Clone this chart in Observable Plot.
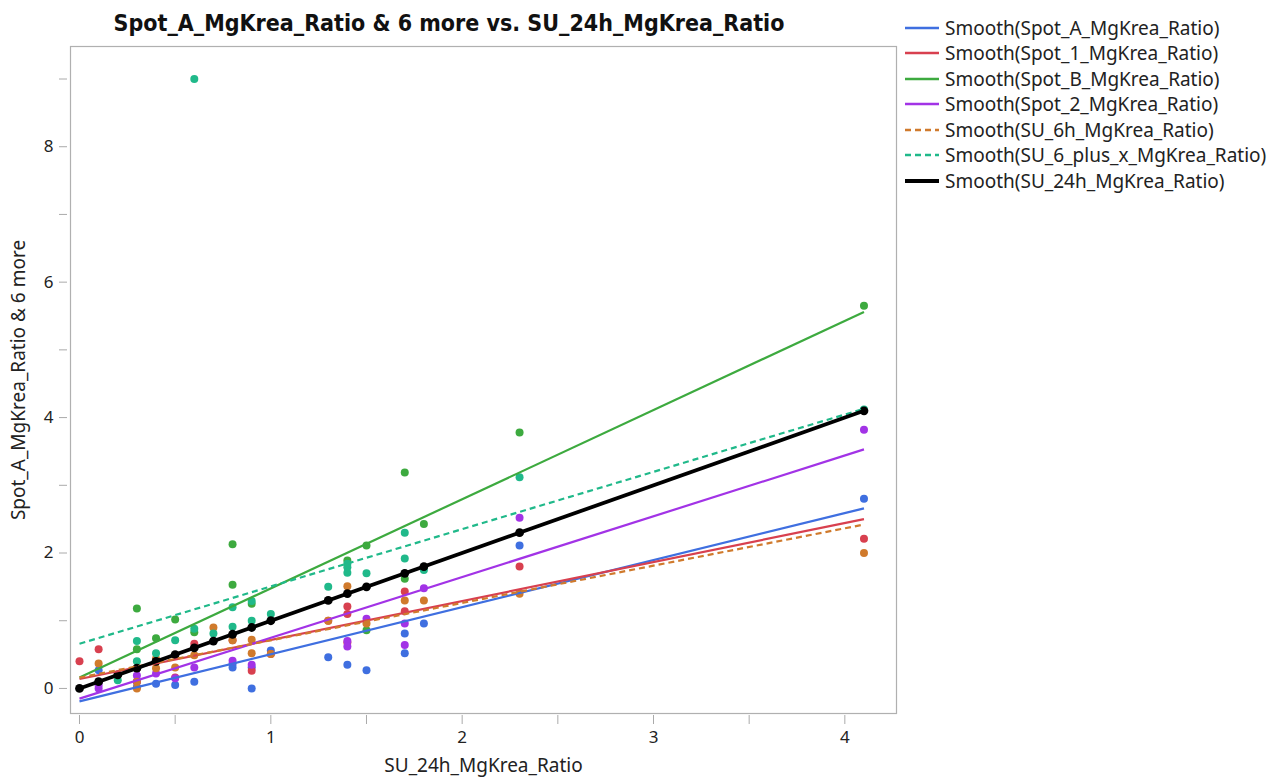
<!DOCTYPE html>
<html>
<head>
<meta charset="utf-8">
<script src="https://cdn.jsdelivr.net/npm/d3@7"></script>
<script src="https://cdn.jsdelivr.net/npm/@observablehq/plot@0.6"></script>
<style>
  html, body { margin: 0; padding: 0; background: #fff; }
  #wrap { position: relative; width: 1269px; height: 778px; font-family: "Noto Sans", "Open Sans", sans-serif; }
  #title { position: absolute; left: 0; width: 898px; top: 10px; text-align: center; font: bold 23px "Liberation Sans Narrow", "DejaVu Sans Condensed", sans-serif; color: #111; }
  #legend { position: absolute; left: 0; top: 0; }
</style>
</head>
<body>
<div id="wrap">
  <div id="chart"></div>
  <div id="title">Spot_A_MgKrea_Ratio &amp; 6 more vs. SU_24h_MgKrea_Ratio</div>
  <svg id="legend" width="1269" height="200"></svg>
</div>
<script>
// ---- data ----
const seriesNames = ["Spot_A_MgKrea_Ratio", "Spot_1_MgKrea_Ratio", "Spot_B_MgKrea_Ratio", "Spot_2_MgKrea_Ratio", "SU_6h_MgKrea_Ratio", "SU_6_plus_x_MgKrea_Ratio", "SU_24h_MgKrea_Ratio"];
const seriesColors = ["#3F6FE0", "#D8404F", "#3DAA3F", "#A233E6", "#D07A2C", "#20B98A", "#000000"];
const seriesDash = [null, null, null, null, "6,4", "6,4", null];
const seriesWidth = [2.2, 2.2, 2.2, 2.2, 2.2, 2.2, 3.8];

const spotA_x = [0.1, 0.3, 0.4, 0.5, 0.6, 0.8, 0.8, 0.9, 0.9, 1.0, 1.3, 1.4, 1.5, 1.7, 1.7, 1.8, 2.3, 4.1];
const spotA_y = [0.27, 0.02, 0.07, 0.05, 0.1, 0.31, 0.36, 0.31, 0.0, 0.56, 0.46, 0.35, 0.27, 0.81, 0.52, 0.96, 2.11, 2.8];

const spot1_x = [0, 0.1, 0.3, 0.5, 0.6, 0.8, 0.9, 1.0, 1.3, 1.4, 1.4, 1.4, 1.7, 1.7, 2.3, 4.1];
const spot1_y = [0.4, 0.58, 0.1, 0.16, 0.66, 0.71, 0.26, 0.51, 1.0, 1.21, 1.1, 0.68, 1.43, 1.14, 1.8, 2.21];

const spotB_x = [0.3, 0.3, 0.4, 0.5, 0.6, 0.8, 0.8, 0.9, 1.4, 1.5, 1.5, 1.7, 1.7, 1.8, 2.3, 4.1];
const spotB_y = [1.18, 0.58, 0.74, 1.02, 0.83, 2.13, 1.53, 1.25, 1.89, 2.11, 0.86, 3.19, 1.62, 2.43, 3.78, 5.65];

const spot2_x = [0.1, 0.1, 0.3, 0.3, 0.4, 0.5, 0.6, 0.8, 0.9, 1.4, 1.4, 1.5, 1.7, 1.7, 1.8, 2.3, 4.1];
const spot2_y = [0.0, 0.05, 0.19, 0.1, 0.22, 0.15, 0.31, 0.41, 0.35, 0.7, 0.62, 1.03, 0.96, 0.64, 1.48, 2.52, 3.82];

const su6h_x = [0.1, 0.3, 0.3, 0.3, 0.4, 0.4, 0.5, 0.6, 0.7, 0.8, 0.9, 0.9, 1.0, 1.3, 1.4, 1.5, 1.7, 1.8, 2.3, 4.1];
const su6h_y = [0.37, 0.3, 0.1, 0.0, 0.44, 0.3, 0.31, 0.49, 0.9, 0.71, 0.72, 0.52, 0.51, 1.0, 1.51, 0.96, 1.3, 1.3, 1.4, 2.0];

const su6px_x = [0.2, 0.3, 0.3, 0.4, 0.5, 0.6, 0.6, 0.7, 0.8, 0.8, 0.9, 0.9, 1.0, 1.3, 1.4, 1.4, 1.4, 1.5, 1.7, 1.7, 1.8, 2.3, 4.1];
const su6px_y = [0.12, 0.7, 0.4, 0.52, 0.71, 9.0, 0.88, 0.81, 1.2, 0.91, 1.29, 1.0, 1.1, 1.5, 1.84, 1.79, 1.71, 1.7, 2.3, 1.92, 1.75, 3.12, 4.12];

const su24_x = [0, 0.1, 0.2, 0.3, 0.4, 0.5, 0.6, 0.7, 0.8, 0.9, 1.0, 1.3, 1.4, 1.5, 1.7, 1.8, 2.3, 4.1];
const su24_y = [0, 0.1, 0.2, 0.3, 0.4, 0.5, 0.6, 0.7, 0.8, 0.9, 1.0, 1.3, 1.4, 1.5, 1.7, 1.8, 2.3, 4.1];

// smoother (near-linear) end values at x = 0 and x = 4.1
const fitX0 = 0, fitX1 = 4.1;
const fitY0 = [-0.19, 0.14, 0.16, -0.15, 0.16, 0.66, 0.0];
const fitY1 = [2.66, 2.5, 5.56, 3.53, 2.42, 4.13, 4.1];

const xTicks = [0, 1, 2, 3, 4];
const xMinorTicks = [0.5, 1.5, 2.5, 3.5];
const yTicks = [0, 2, 4, 6, 8];
const yMinorTicks = [1, 3, 5, 7, 9];
const xTitle = "SU_24h_MgKrea_Ratio";
const yTitle = "Spot_A_MgKrea_Ratio & 6 more";

// ---- build tables ----
const xsAll = [spotA_x, spot1_x, spotB_x, spot2_x, su6h_x, su6px_x, su24_x];
const ysAll = [spotA_y, spot1_y, spotB_y, spot2_y, su6h_y, su6px_y, su24_y];
const pointSets = xsAll.map((xs, i) => xs.map((x, j) => ({series: seriesNames[i], x, y: ysAll[i][j]})));
const fits = seriesNames.map((s, i) => ({series: s, x1: fitX0, x2: fitX1, y1: fitY0[i], y2: fitY1[i], idx: i}));

const fontFam = "'Noto Sans', 'Open Sans', sans-serif";

const dotMarks = pointSets.map((pts, i) => Plot.dot(pts, {
  x: "x", y: "y", r: i === 6 ? 4.4 : 4, fill: seriesColors[i], stroke: "none"
}));
const lineMarks = fits.map(f => Plot.link([f], {
  x1: "x1", x2: "x2", y1: "y1", y2: "y2",
  stroke: seriesColors[f.idx], strokeWidth: seriesWidth[f.idx],
  strokeDasharray: seriesDash[f.idx] || undefined
}));

const chart = Plot.plot({
  width: 1269, height: 778,
  marginLeft: 70, marginRight: 373, marginTop: 46, marginBottom: 65,
  style: {fontFamily: fontFam, fontSize: "17px", color: "#222", background: "#fff"},
  x: {domain: [-0.047, 4.27]},
  y: {domain: [-0.37, 9.48]},
  marks: [
    Plot.frame({stroke: "#b0b0b0", strokeWidth: 1.2}),
    Plot.axisX({ticks: xTicks, tickFormat: d => String(d), tickSize: 9, dy: 2, tickPadding: 6, stroke: "#aaa", fontSize: 17, label: null}),
    Plot.axisX({ticks: xMinorTicks, tickSize: 9, dy: 2, stroke: "#aaa", tickFormat: () => "", label: null}),
    Plot.axisY({ticks: yTicks, tickFormat: d => String(d), tickSize: 8, dx: -3, tickPadding: 6, stroke: "#aaa", fontSize: 17, label: null}),
    Plot.axisY({ticks: yMinorTicks, tickSize: 8, dx: -3, stroke: "#aaa", tickFormat: () => "", label: null}),
    Plot.text([xTitle], {frameAnchor: "bottom", dy: 58, textAnchor: "middle", text: d => d, fontSize: 19, fill: "#222"}),
    Plot.text([yTitle], {frameAnchor: "left", dx: -52, rotate: -90, textAnchor: "middle", text: d => d, fontSize: 19, fill: "#222"}),
    ...dotMarks,
    ...lineMarks
  ]
});
document.getElementById("chart").appendChild(chart);

// ---- legend ----
const leg = d3.select("#legend");
const rowY = [28, 53, 79, 104, 130, 155, 181];
seriesNames.forEach((s, i) => {
  leg.append("line").attr("x1", 905).attr("x2", 939).attr("y1", rowY[i]).attr("y2", rowY[i])
    .attr("stroke", seriesColors[i]).attr("stroke-width", i === 6 ? 4 : 2.5)
    .attr("stroke-dasharray", seriesDash[i]);
  leg.append("text").attr("x", 945).attr("y", rowY[i]).attr("dy", "0.35em")
    .attr("font-family", fontFam).attr("font-size", 19).attr("fill", "#222")
    .text(`Smooth(${s})`);
});
</script>
</body>
</html>
